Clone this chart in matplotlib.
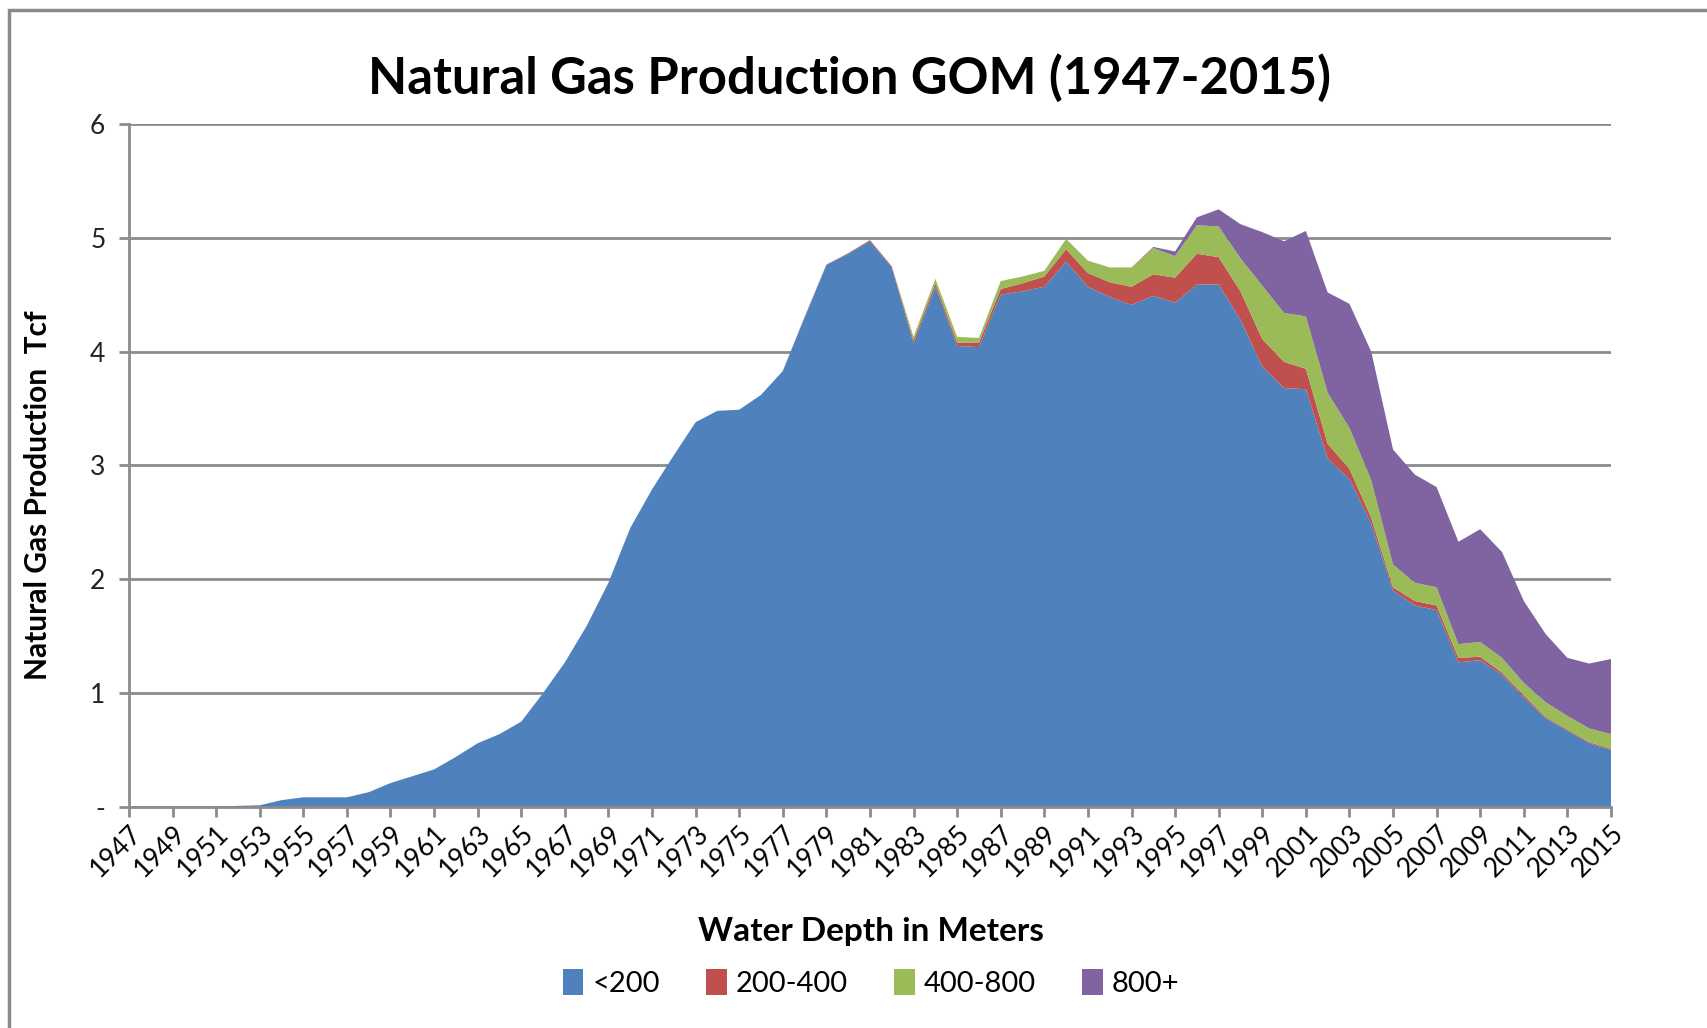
import numpy as np
import matplotlib
matplotlib.use('Agg')
import matplotlib.pyplot as plt
from matplotlib.patches import Rectangle

plt.rcParams['font.family'] = ['Lato', 'DejaVu Sans']

years = list(range(1947, 2016))

# Tcf by water depth band
depth_lt200 = [0, 0, 0, 0, 0, 0.01, 0.015, 0.06, 0.085, 0.085,
               0.085, 0.13, 0.21, 0.27, 0.33, 0.44, 0.56, 0.64, 0.75, 1.0,
               1.27, 1.59, 1.97, 2.45, 2.79, 3.09, 3.38, 3.48, 3.49, 3.62,
               3.83, 4.30, 4.76, 4.86, 4.97, 4.74, 4.07, 4.57, 4.05, 4.04,
               4.50, 4.53, 4.57, 4.79, 4.57, 4.48, 4.41, 4.49, 4.43, 4.59,
               4.59, 4.28, 3.87, 3.68, 3.67, 3.06, 2.88, 2.49, 1.90, 1.77,
               1.73, 1.27, 1.29, 1.16, 0.96, 0.78, 0.67, 0.56, 0.50]
depth_200_400 = [0] * 31 + [0.005, 0.005, 0.005, 0.01, 0.01, 0.03, 0.03, 0.03, 0.04,
                            0.05, 0.07, 0.09, 0.11, 0.12, 0.13, 0.16, 0.19, 0.22, 0.27,
                            0.24, 0.25, 0.24, 0.23, 0.18, 0.13, 0.09, 0.05, 0.03, 0.04,
                            0.04, 0.04, 0.03, 0.02, 0.02, 0.01, 0.01, 0.01, 0.01]
depth_400_800 = [0] * 36 + [0.03, 0.04, 0.05, 0.04,
                            0.07, 0.06, 0.05, 0.09, 0.11, 0.13, 0.17, 0.23, 0.19, 0.25,
                            0.27, 0.29, 0.47, 0.43, 0.46, 0.45, 0.36, 0.33, 0.20, 0.16,
                            0.16, 0.12, 0.13, 0.13, 0.11, 0.13, 0.12, 0.12, 0.13]
depth_800plus = [0] * 47 + [0.01, 0.04, 0.07,
                            0.15, 0.30, 0.47, 0.63, 0.75, 0.88, 1.09, 1.13, 1.01, 0.95,
                            0.88, 0.90, 0.99, 0.93, 0.72, 0.60, 0.51, 0.57, 0.66]

series_labels = ['<200', '200-400', '400-800', '800+']
colors = ['#4F81BD', '#C0504D', '#9BBB59', '#8064A2']
ytick_labels = ['-', '1', '2', '3', '4', '5', '6']
xtick_years = years[::2]

fig = plt.figure(figsize=(17.08, 10.28), dpi=100)
fig.patches.append(Rectangle((0.005, -0.05), 1.1, 1.04, transform=fig.transFigure,
                             fill=False, edgecolor='#8a8a8a', lw=2.5))

ax = fig.add_axes([0.0755, 0.215, 0.8677, 0.6644])
ax.stackplot(years, depth_lt200, depth_200_400, depth_400_800, depth_800plus,
             colors=colors, labels=series_labels, lw=0, zorder=2)

ax.set_xlim(1947, 2015)
ax.set_ylim(0, 6)
ax.set_yticks(range(7))
ax.set_yticklabels(ytick_labels, fontsize=19, color='#222222')
ax.set_xticks(xtick_years)
ax.set_xticklabels([str(y) for y in xtick_years], rotation=45, ha='right',
                   rotation_mode='anchor', fontsize=19)
ax.grid(axis='y', color='#8c8c8c', lw=2, zorder=1)
for s in ['top', 'right']:
    ax.spines[s].set_visible(False)
for s in ['left', 'bottom']:
    ax.spines[s].set_color('#8c8c8c')
    ax.spines[s].set_linewidth(2)
ax.spines['bottom'].set_zorder(3)
ax.tick_params(axis='both', direction='out', color='#8c8c8c', width=2, length=7)
ax.tick_params(axis='x', pad=3)
ax.tick_params(axis='y', pad=10)

fig.text(0.4975, 0.924, 'Natural Gas Production GOM (1947-2015)', ha='center', va='center',
         fontsize=36.5, fontweight='bold')
fig.text(0.022, 0.518, 'Natural Gas Production  Tcf', rotation=90, ha='center', va='center',
         fontsize=21.5, fontweight='bold')
fig.text(0.510, 0.094, 'Water Depth in Meters', ha='center', va='center',
         fontsize=24, fontweight='bold')

handles, labels = ax.get_legend_handles_labels()
fig.legend(handles, labels, loc='center', bbox_to_anchor=(0.51, 0.044), ncol=4,
           frameon=False, fontsize=21, handlelength=0.7, handleheight=1.0,
           handletextpad=0.3, columnspacing=1.6)

fig.savefig('out.png', dpi=100)
